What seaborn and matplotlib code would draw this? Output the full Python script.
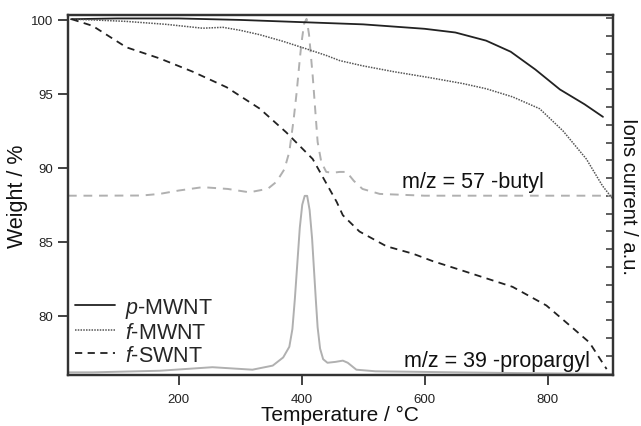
import numpy as np
import pandas as pd
import seaborn as sns
import matplotlib
matplotlib.use("Agg")
import matplotlib.pyplot as plt

# weight loss curves (TGA)
t_pmwnt = [25, 100, 200, 300, 400, 500, 600, 650, 700, 740, 780, 820, 860, 890]
w_pmwnt = [100.05, 100.1, 100.1, 100.0, 99.85, 99.7, 99.4, 99.15, 98.6, 97.85,
           96.65, 95.3, 94.3, 93.45]

t_fmwnt = [26, 60, 115, 180, 239, 272, 300, 332, 370, 408, 440, 462, 499, 550,
           608, 662, 700, 743, 787, 825, 863, 889, 906]
w_fmwnt = [100.05, 100.0, 99.9, 99.7, 99.44, 99.5, 99.3, 99.0, 98.55, 98.04,
           97.6, 97.25, 96.9, 96.5, 96.1, 95.7, 95.35, 94.8, 94.0, 92.5, 90.6,
           88.8, 87.9]

t_fswnt = [26, 60, 115, 169, 223, 278, 332, 375, 418, 457, 467, 494, 538, 581,
           613, 662, 743, 798, 836, 868, 896]
w_fswnt = [100.05, 99.6, 98.15, 97.4, 96.5, 95.45, 94.0, 92.4, 90.6, 87.7, 86.8,
           85.7, 84.7, 84.2, 83.7, 83.05, 81.96, 80.7, 79.35, 78.2, 76.4]

# ion currents (a.u.)
t_mz57 = [20, 60, 140, 169, 200, 239, 280, 315, 345, 359, 372, 380, 387, 392,
          397, 400, 404, 408, 412, 418, 422, 426, 432, 440, 450, 462, 473, 485,
          499, 527, 600, 700, 800, 906]
i_mz57 = [9.01, 9.01, 9.02, 9.11, 9.3, 9.49, 9.39, 9.2, 9.4, 9.79, 10.5, 11.48,
          13.3, 14.86, 16.7, 17.67, 18.69, 18.97, 18.1, 15.76, 13.9, 12.04, 10.9,
          10.35, 10.3, 10.35, 10.35, 9.84, 9.39, 9.11, 9.01, 9.01, 9.01, 9.01]

t_mz39 = [20, 60, 169, 255, 320, 353, 370, 380, 385, 389, 393, 397, 401, 405,
          409, 413, 417, 420, 423, 426, 430, 435, 442, 455, 467, 475, 489, 520,
          608, 750, 906]
i_mz39 = [-0.94, -0.94, -0.85, -0.65, -0.79, -0.56, -0.1, 0.5, 1.5, 3.2, 5.2,
          7.2, 8.5, 9.0, 9.0, 8.2, 6.6, 4.9, 3.2, 1.6, 0.4, -0.2, -0.4, -0.35,
          -0.28, -0.4, -0.79, -0.88, -0.92, -0.98, -1.03]

x_ticks = [200, 400, 600, 800]
y_ticks = [80, 85, 90, 95, 100]

sns.set_style("ticks")
plt.rcParams["font.family"] = ["Liberation Sans", "DejaVu Sans"]
plt.rcParams["mathtext.fontset"] = "custom"
plt.rcParams["mathtext.it"] = "Liberation Sans:italic"
plt.rcParams["mathtext.rm"] = "Liberation Sans"

fig = plt.figure(figsize=(6.41, 4.27), dpi=100)
ax = fig.add_axes([0.106, 0.1194, 0.85, 0.842])
ax2 = ax.twinx()

grey = "#b0b0b0"
sns.lineplot(x=t_mz57, y=i_mz57, ax=ax2, color=grey, lw=1.4,
             linestyle=(0, (4.5, 3.5)), sort=False)
sns.lineplot(x=t_mz39, y=i_mz39, ax=ax2, color=grey, lw=1.4, sort=False)

sns.lineplot(x=t_pmwnt, y=w_pmwnt, ax=ax, color="#222222", lw=1.3,
             label=r"$\it{p}$-MWNT")
sns.lineplot(x=t_fmwnt, y=w_fmwnt, ax=ax, color="#555555", lw=1.1,
             linestyle=(0, (1, 0.8)), label=r"$\it{f}$-MWNT")
sns.lineplot(x=t_fswnt, y=w_fswnt, ax=ax, color="#222222", lw=1.3,
             linestyle=(0, (4, 3)), label=r"$\it{f}$-SWNT")

ax.set_zorder(ax2.get_zorder() + 1)
ax.patch.set_visible(False)

ax.set_xlim(20, 906)
ax.set_ylim(76, 100.3)
ax.set_xticks(x_ticks)
ax.set_yticks(y_ticks)
ax.tick_params(axis="both", direction="out", length=7, width=1.3,
               labelsize=9.5, colors="#333333", labelcolor="#222222")
ax.tick_params(axis="x", pad=6)
ax.set_xlabel("Temperature / °C", fontsize=15, labelpad=0, color="#111111")
ax.set_ylabel("Weight / %", fontsize=15.5, labelpad=2, color="#111111")

ax2.set_ylim(-1.09, 19.16)
ax2.set_yticks(range(0, 20))
ax2.set_yticklabels([])
ax2.tick_params(axis="y", direction="in", length=5, width=1.1,
                colors="#333333")
ax2.set_ylabel("Ions current / a.u.", fontsize=14.5, rotation=-90,
               labelpad=15, color="#111111")

for a in (ax, ax2):
    for s in a.spines.values():
        s.set_linewidth(1.6)
        s.set_color("#333333")

ax2.text(564, 9.5, "m/z = 57 -butyl", fontsize=15.5, ha="left",
         va="baseline", color="#111111")
ax2.text(567, -0.56, "m/z = 39 -propargyl", fontsize=15.5, ha="left",
         va="baseline", color="#111111")

leg = ax.legend(loc="lower left", bbox_to_anchor=(0.013, 0.025), frameon=False,
                fontsize=15.5, handlelength=1.85, handletextpad=0.45,
                labelspacing=0.1, borderpad=0, borderaxespad=0)

fig.savefig("out.png", dpi=100)
